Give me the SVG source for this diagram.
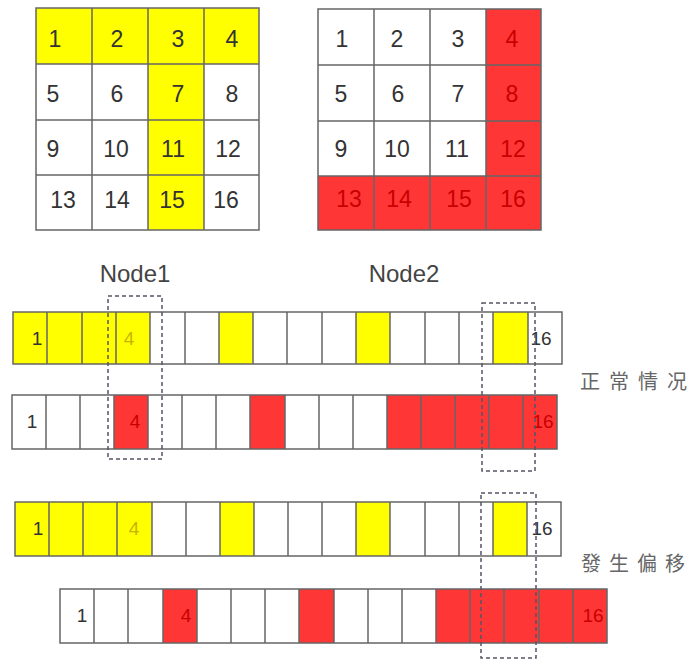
<svg xmlns="http://www.w3.org/2000/svg" width="690" height="660" viewBox="0 0 690 660">
<style>
.bg{fill:#fff}
.yf{fill:#ffff00}
.rf{fill:#ff3636}
.frame{fill:none;stroke:#666;stroke-width:1.5}
.grid{fill:none;stroke:#666;stroke-width:1.5}
.t{font-family:"Liberation Sans",Arial,sans-serif;fill:#333;text-anchor:middle}
.big{font-size:23px}
.sm{font-size:19px}
.rt{fill:#c80000}
.yt{fill:#c8b400}
.lbl{font-family:"Liberation Sans",Arial,sans-serif;font-size:24px;fill:#444;text-anchor:middle}
.cjk{font-family:"Noto Sans CJK SC","Noto Sans CJK TC",sans-serif;font-size:20px;fill:#666}
.dash{fill:none;stroke:#556;stroke-width:1.5;stroke-dasharray:4 3}
</style>
<rect class="bg" x="0" y="0" width="690" height="660"/>

<g id="grid-left">
  <rect class="yf" x="36" y="8" width="223" height="56"/>
  <rect class="yf" x="148" y="64" width="56" height="166"/>
  <rect class="frame" x="36" y="8" width="223" height="222"/>
  <path class="grid" d="M92 8V230M148 8V230M204 8V230M36 64H259M36 120H259M36 175H259"/>
  <text class="t big" x="55" y="47">1</text>
  <text class="t big" x="117" y="47">2</text>
  <text class="t big" x="178" y="47">3</text>
  <text class="t big" x="232" y="47">4</text>
  <text class="t big" x="53" y="102">5</text>
  <text class="t big" x="117" y="102">6</text>
  <text class="t big" x="178" y="102">7</text>
  <text class="t big" x="232" y="102">8</text>
  <text class="t big" x="53" y="157">9</text>
  <text class="t big" x="116" y="157">10</text>
  <text class="t big" x="173" y="157">11</text>
  <text class="t big" x="228" y="157">12</text>
  <text class="t big" x="63" y="208">13</text>
  <text class="t big" x="117" y="208">14</text>
  <text class="t big" x="172" y="208">15</text>
  <text class="t big" x="226" y="208">16</text>
</g>

<g id="grid-right">
  <rect class="rf" x="486" y="9" width="55" height="221"/>
  <rect class="rf" x="318" y="176" width="223" height="54"/>
  <rect class="frame" x="318" y="9" width="223" height="221"/>
  <path class="grid" d="M374 9V230M430 9V230M486 9V230M318 65H541M318 121H541M318 176H541"/>
  <text class="t big" x="342" y="47">1</text>
  <text class="t big" x="397" y="47">2</text>
  <text class="t big" x="458" y="47">3</text>
  <text class="t big rt" x="512" y="47">4</text>
  <text class="t big" x="341" y="102">5</text>
  <text class="t big" x="398" y="102">6</text>
  <text class="t big" x="458" y="102">7</text>
  <text class="t big rt" x="512" y="102">8</text>
  <text class="t big" x="341" y="157">9</text>
  <text class="t big" x="397" y="157">10</text>
  <text class="t big" x="457" y="157">11</text>
  <text class="t big rt" x="513" y="157">12</text>
  <text class="t big rt" x="349" y="207">13</text>
  <text class="t big rt" x="399" y="207">14</text>
  <text class="t big rt" x="459" y="207">15</text>
  <text class="t big rt" x="513" y="207">16</text>
</g>

<g id="row1-normal-yellow">
  <rect class="yf" x="13" y="312" width="137" height="52"/>
  <rect class="yf" x="219" y="312" width="34" height="52"/>
  <rect class="yf" x="356" y="312" width="34" height="52"/>
  <rect class="yf" x="493" y="312" width="35" height="52"/>
  <rect class="frame" x="13" y="312" width="549" height="52"/>
  <path class="grid" d="M47 312V364M82 312V364M116 312V364M150 312V364M185 312V364M219 312V364M253 312V364M287 312V364M322 312V364M356 312V364M390 312V364M425 312V364M459 312V364M493 312V364M528 312V364"/>
  <text class="t sm" x="37" y="345">1</text>
  <text class="t sm yt" x="129" y="345">4</text>
  <text class="t sm" x="541" y="345">16</text>
</g>

<g id="row2-normal-red">
  <rect class="rf" x="114" y="395" width="34" height="54"/>
  <rect class="rf" x="250" y="395" width="35" height="54"/>
  <rect class="rf" x="387" y="395" width="170" height="54"/>
  <rect class="frame" x="12" y="395" width="545" height="54"/>
  <path class="grid" d="M46 395V449M80 395V449M114 395V449M148 395V449M182 395V449M216 395V449M250 395V449M285 395V449M319 395V449M353 395V449M387 395V449M421 395V449M455 395V449M489 395V449M523 395V449"/>
  <text class="t sm" x="32" y="428">1</text>
  <text class="t sm rt" x="135" y="428">4</text>
  <text class="t sm rt" x="543" y="428">16</text>
</g>

<g id="row3-offset-yellow">
  <rect class="yf" x="15" y="502" width="137" height="54"/>
  <rect class="yf" x="220" y="502" width="34" height="54"/>
  <rect class="yf" x="356" y="502" width="34" height="54"/>
  <rect class="yf" x="493" y="502" width="34" height="54"/>
  <rect class="frame" x="15" y="502" width="546" height="54"/>
  <path class="grid" d="M49 502V556M83 502V556M117 502V556M152 502V556M186 502V556M220 502V556M254 502V556M288 502V556M322 502V556M356 502V556M390 502V556M425 502V556M459 502V556M493 502V556M527 502V556"/>
  <text class="t sm" x="38" y="535">1</text>
  <text class="t sm yt" x="134" y="535">4</text>
  <text class="t sm" x="542" y="535">16</text>
</g>

<g id="row4-offset-red">
  <rect class="rf" x="163" y="589" width="34" height="54"/>
  <rect class="rf" x="299" y="589" width="35" height="54"/>
  <rect class="rf" x="436" y="589" width="171" height="54"/>
  <rect class="frame" x="60" y="589" width="547" height="54"/>
  <path class="grid" d="M94 589V643M128 589V643M163 589V643M197 589V643M231 589V643M265 589V643M299 589V643M334 589V643M368 589V643M402 589V643M436 589V643M470 589V643M504 589V643M539 589V643M573 589V643"/>
  <text class="t sm" x="82" y="622">1</text>
  <text class="t sm rt" x="186" y="622">4</text>
  <text class="t sm rt" x="593" y="622">16</text>
</g>

<g id="node1">
  <rect class="dash" x="108" y="296" width="54" height="163"/>
  <text class="lbl" x="135" y="282">Node1</text>
</g>

<g id="node2">
  <rect class="dash" x="482" y="303" width="53" height="168"/>
  <rect class="dash" x="481" y="493" width="55" height="165"/>
  <text class="lbl" x="404" y="282">Node2</text>
</g>

<g id="labels">
  <text class="cjk" x="580 609 638 667" y="389">正常情况</text>
  <text class="cjk" x="581 609 637 665" y="571">發生偏移</text>
</g>
</svg>
